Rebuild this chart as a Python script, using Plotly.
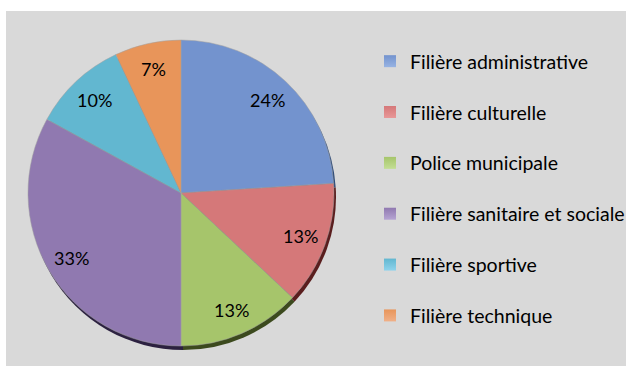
import math
import plotly.graph_objects as go

labels = ["Filière administrative", "Filière culturelle", "Police municipale",
          "Filière sanitaire et sociale", "Filière sportive", "Filière technique"]
values = [24, 13, 13, 33, 10, 7]
colors = ["#7393ce", "#d57879", "#a6c56b", "#9079b0", "#62b7d0", "#e8955a"]
light = ["#97b3e3", "#e89898", "#c3de95", "#b6a5d3", "#8fd3ec", "#f0b088"]
dark = ["#2d4a78", "#5a1e1e", "#3c4a1e", "#2c2140", "#1d5260", "#7a3e12"]

W, H = 627, 367
FONT = "Lato"

# pie geometry (pixels)
CX, CY, R = 181, 193, 153
dom_x = [(CX - R) / W, (CX + R) / W]
dom_y = [(H - CY - R) / H, (H - CY + R) / H]

fig = go.Figure()
# shadow / rim
SH = 4
fig.add_trace(go.Pie(
    labels=labels, values=values, sort=False, direction="clockwise", rotation=0,
    marker=dict(colors=dark, line=dict(width=0)),
    textinfo="none", hoverinfo="skip",
    domain=dict(x=[dom_x[0] + 2 / W, dom_x[1] + 2 / W], y=[dom_y[0] - SH / H, dom_y[1] - SH / H]),
    showlegend=False,
))
fig.add_trace(go.Pie(
    labels=labels, values=values, sort=False, direction="clockwise", rotation=0,
    marker=dict(colors=colors, line=dict(color="#a0a0a0", width=0.5)),
    textinfo="none",
    domain=dict(x=dom_x, y=dom_y),
    showlegend=False, hoverinfo="label+percent",
))

# percentage labels placed at 0.83 radius on each slice's mid-angle
total = sum(values)
annotations = []
cum = 0
for v in values:
    mid = (cum + v / 2) / total * 2 * math.pi
    cum += v
    px = CX + 0.83 * R * math.sin(mid)
    py = CY - 0.83 * R * math.cos(mid)
    annotations.append(dict(
        x=px / W, y=(H - py) / H, xref="paper", yref="paper",
        text=f"{round(v / total * 100)}%", showarrow=False,
        font=dict(family=FONT, size=18, color="#000000"),
        xanchor="center", yanchor="middle",
    ))

for i, lab in enumerate(labels):
    fig.add_trace(go.Scatter(
        x=[None], y=[None], mode="markers", name=lab,
        legendgroup=f"g{i}",
        marker=dict(symbol="square", size=12, color=colors[i],
                    gradient=dict(type="vertical", color=light[i])),
    ))

fig.update_layout(
    width=W, height=H,
    margin=dict(l=0, r=0, t=0, b=0, autoexpand=False),
    paper_bgcolor="#ffffff", plot_bgcolor="rgba(0,0,0,0)",
    font=dict(family=FONT, color="#000000"),
    xaxis=dict(visible=False), yaxis=dict(visible=False),
    legend=dict(x=370 / W, y=(H - 42) / H, xanchor="left", yanchor="top",
                bgcolor="rgba(0,0,0,0)", font=dict(family=FONT, size=19.5, color="#000000"),
                tracegroupgap=22.5, itemsizing="constant"),
    annotations=annotations,
    shapes=[dict(type="rect", xref="paper", yref="paper", layer="below",
                 x0=6 / W, x1=626 / W, y0=1 / H, y1=(H - 11) / H,
                 fillcolor="#d9d9d9", line=dict(width=0))],
)

fig.write_html("out.html")
